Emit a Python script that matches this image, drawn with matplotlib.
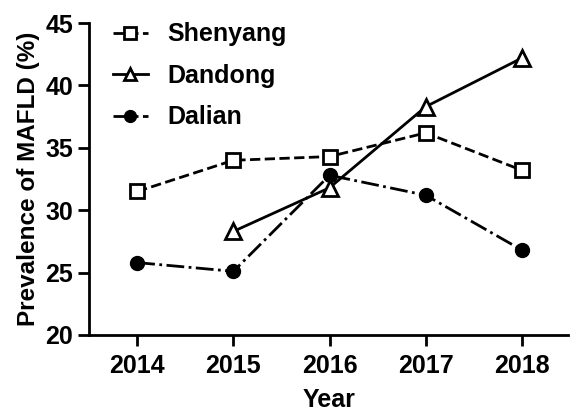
import matplotlib.pyplot as plt

plt.rcParams['font.family'] = ['Liberation Sans', 'DejaVu Sans']
plt.rcParams['font.weight'] = 'bold'

years = [2014, 2015, 2016, 2017, 2018]
shenyang = [31.5, 34.0, 34.3, 36.2, 33.2]
dandong_years = [2015, 2016, 2017, 2018]
dandong = [28.3, 31.8, 38.3, 42.2]
dalian = [25.8, 25.1, 32.8, 31.2, 26.8]

fig = plt.figure(figsize=(5.71, 4.12), dpi=100)
ax = fig.add_axes([0.156, 0.187, 0.839, 0.757])

lw = 2.0
ax.plot(years, shenyang, linestyle='--', color='black', lw=lw, marker='s',
        markersize=10, markerfacecolor='white', markeredgewidth=2.0, label='Shenyang')
ax.plot(dandong_years, dandong, linestyle='-', color='black', lw=lw, marker='^',
        markersize=11, markerfacecolor='white', markeredgewidth=2.0, label='Dandong')
ax.plot(years, dalian, linestyle='-.', color='black', lw=lw, marker='o',
        markersize=10, markerfacecolor='black', label='Dalian')

ax.set_xlim(2013.5, 2018.48)
ax.set_ylim(20, 45)
ax.set_xticks(years)
ax.set_yticks([20, 25, 30, 35, 40, 45])
ax.tick_params(labelsize=18, width=2.0, length=8)
ax.tick_params(axis='x', pad=6)
for s in ['top', 'right']:
    ax.spines[s].set_visible(False)
for s in ['left', 'bottom']:
    ax.spines[s].set_linewidth(2.0)

ax.set_xlabel('Year', fontsize=18, fontweight='bold', labelpad=7)
ax.set_ylabel('Prevalence of MAFLD (%)', fontsize=17.5, fontweight='bold', labelpad=4)

ax.legend(loc='upper left', bbox_to_anchor=(0.158, 1.0), bbox_transform=fig.transFigure,
          frameon=False, fontsize=18, handlelength=1.4, labelspacing=0.7, handletextpad=0.8,
          markerscale=0.85)

fig.savefig('out.png', dpi=100)
